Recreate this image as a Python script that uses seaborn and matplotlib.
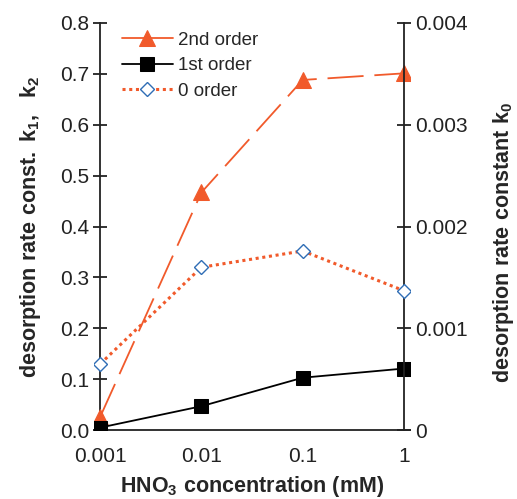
import matplotlib
matplotlib.use("Agg")
import matplotlib.pyplot as plt
import seaborn as sns
import pandas as pd

sns.set_style("white")
plt.rcParams['font.family'] = ['Liberation Sans', 'DejaVu Sans']
plt.rcParams['mathtext.fontset'] = 'custom'
plt.rcParams['mathtext.rm'] = 'Liberation Sans:bold'
plt.rcParams['mathtext.it'] = 'Liberation Sans:bold'
plt.rcParams['mathtext.bf'] = 'Liberation Sans:bold'

conc = [0.001, 0.01, 0.1, 1]
k2 = [0.026, 0.467, 0.688, 0.701]
k1 = [0.005, 0.047, 0.103, 0.121]
k0 = [0.00065, 0.0016, 0.00176, 0.00137]
xticks = [0.001, 0.01, 0.1, 1]
xticklabels = ["0.001", "0.01", "0.1", "1"]
yticks_left = [0.0, 0.1, 0.2, 0.3, 0.4, 0.5, 0.6, 0.7, 0.8]
yticks_right = [0, 0.001, 0.002, 0.003, 0.004]
yticklabels_right = ["0", "0.001", "0.002", "0.003", "0.004"]

orange = "#F15A2B"
blue = "#2F6DB5"

df = pd.DataFrame({"conc": conc, "k2": k2, "k1": k1, "k0": k0})

fig = plt.figure(figsize=(5.17, 4.99), dpi=100)
ax = fig.add_axes([0.182, 0.138, 0.611, 0.816])
ax2 = ax.twinx()

sns.lineplot(data=df, x="conc", y="k2", ax=ax, color=orange, marker="^",
             markersize=11, markeredgecolor=orange, linewidth=1.3,
             label="2nd order", zorder=3)
ax.lines[-1].set_dashes((20, 6))
sns.lineplot(data=df, x="conc", y="k1", ax=ax, color="black", marker="s",
             markersize=9.5, markeredgecolor="black", linewidth=1.3,
             label="1st order", zorder=3)
sns.lineplot(data=df, x="conc", y="k0", ax=ax2, color=orange, marker="D",
             markersize=7.5, markerfacecolor="white", markeredgecolor=blue,
             markeredgewidth=1.0, linewidth=2.2, label="0 order", zorder=3)
ax2.lines[-1].set_linestyle((0, (1, 1.2)))

ax.set_xscale("log")
ax.set_xlim(10 ** -3.06, 10 ** 0.06)
ax.set_ylim(0, 0.8)
ax2.set_ylim(0, 0.004)
ax.set_xticks(xticks)
ax.set_xticklabels(xticklabels)
ax.xaxis.set_minor_locator(matplotlib.ticker.NullLocator())
ax.set_yticks(yticks_left)
ax.set_yticklabels([f"{v:.1f}" for v in yticks_left])
ax2.set_yticks(yticks_right)
ax2.set_yticklabels(yticklabels_right)

for a in (ax, ax2):
    a.spines['top'].set_visible(False)
    a.set_facecolor('none')
ax.spines['right'].set_visible(False)
ax2.spines['left'].set_visible(False)
ax2.spines['bottom'].set_visible(False)
ax.spines['left'].set_position(('data', 0.001))
ax2.spines['right'].set_position(('data', 1))
for s in ['left', 'bottom']:
    ax.spines[s].set_color('#222222')
    ax.spines[s].set_linewidth(1.3)
ax2.spines['right'].set_color('#222222')
ax2.spines['right'].set_linewidth(1.3)

ax.tick_params(axis='y', direction='inout', length=10, width=1.3, labelsize=15, pad=3, colors='#222222')
ax.tick_params(axis='x', direction='out', length=6, width=1.3, labelsize=15, pad=6, colors='#222222')
ax2.tick_params(axis='y', direction='inout', length=10, width=1.3, labelsize=15, pad=3, colors='#222222')

ax.set_xlabel(r"$\mathbf{HNO_3\ concentration\ (mM)}$", fontsize=15.5, labelpad=6)
ax.set_ylabel(r"$\mathbf{desorption\ rate\ const.\ k_1,\ \ k_2}$", fontsize=15.5, labelpad=12)
ax2.set_ylabel(r"$\mathbf{desorption\ rate\ constant\ k_0}$", fontsize=15.5, labelpad=16)
ax2.yaxis.set_label_coords(1.255, 0.46)

h1, l1 = ax.get_legend_handles_labels()
h2, l2 = ax2.get_legend_handles_labels()
if ax.get_legend():
    ax.get_legend().remove()
if ax2.get_legend():
    ax2.get_legend().remove()
leg = ax2.legend(h1 + h2, l1 + l2, loc='upper left', bbox_to_anchor=(0.035, 1.02),
                 frameon=False, fontsize=13.5, handlelength=2.7, labelspacing=0.45,
                 handletextpad=0.3)
leg.get_lines()[0].set_linestyle('-')

fig.savefig("out.png", dpi=100)
